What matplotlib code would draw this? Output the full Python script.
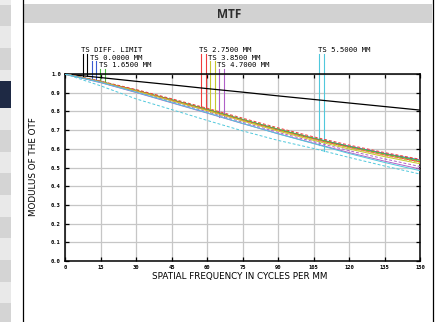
import numpy as np
import matplotlib
matplotlib.use("Agg")
import matplotlib.pyplot as plt
from matplotlib.patches import Rectangle
from matplotlib.lines import Line2D

W, H = 438, 322

# spatial frequency (cycles/mm) and modulus values
freqs = [0, 15, 30, 45, 60, 75, 90, 105, 120, 135, 150]
diff_limit = [1.0, 0.981, 0.961, 0.942, 0.922, 0.903, 0.883, 0.864, 0.845, 0.826, 0.807]

t_0000 = [1.0, 0.959, 0.912, 0.862, 0.810, 0.756, 0.704, 0.657, 0.614, 0.575, 0.540]
s_0000 = [1.0, 0.959, 0.912, 0.862, 0.810, 0.756, 0.704, 0.656, 0.613, 0.574, 0.538]
t_1650 = [1.0, 0.960, 0.913, 0.863, 0.811, 0.757, 0.705, 0.656, 0.612, 0.573, 0.537]
s_1650 = [1.0, 0.960, 0.914, 0.864, 0.812, 0.758, 0.706, 0.657, 0.612, 0.572, 0.535]
t_2750 = [1.0, 0.959, 0.911, 0.860, 0.807, 0.753, 0.700, 0.652, 0.607, 0.567, 0.530]
s_2750 = [1.0, 0.962, 0.917, 0.868, 0.817, 0.764, 0.712, 0.664, 0.620, 0.580, 0.544]
t_3850 = [1.0, 0.958, 0.909, 0.857, 0.804, 0.749, 0.695, 0.645, 0.599, 0.558, 0.520]
s_3850 = [1.0, 0.958, 0.910, 0.859, 0.806, 0.752, 0.699, 0.650, 0.605, 0.564, 0.526]
t_4700 = [1.0, 0.954, 0.901, 0.846, 0.791, 0.735, 0.681, 0.630, 0.580, 0.534, 0.492]
s_4700 = [1.0, 0.956, 0.905, 0.852, 0.798, 0.742, 0.688, 0.638, 0.590, 0.546, 0.505]
t_5500 = [1.0, 0.955, 0.903, 0.848, 0.793, 0.736, 0.680, 0.628, 0.575, 0.527, 0.483]
s_5500 = [1.0, 0.937, 0.867, 0.810, 0.752, 0.696, 0.645, 0.602, 0.554, 0.508, 0.465]

field_labels = ["TS 0.0000 MM", "TS 1.6500 MM", "TS 2.7500 MM",
                "TS 3.8500 MM", "TS 4.7000 MM", "TS 5.5000 MM"]
field_t = [t_0000, t_1650, t_2750, t_3850, t_4700, t_5500]
field_s = [s_0000, s_1650, s_2750, s_3850, s_4700, s_5500]
field_colors = ["#3a5ad0", "#4cc040", "#f03c3c", "#c8c830", "#b060c8", "#50c8dc"]

# legend tags: data x of the two leader lines, label x, label baseline y
diff_tag = (7.5, 9.4, 6.8, 1.115)
field_tags = [(11.3, 13.2, 10.6, 1.075), (14.9, 16.9, 14.4, 1.035),
              (57.5, 59.5, 56.6, 1.115), (61.4, 63.4, 60.4, 1.075),
              (65.1, 67.1, 64.2, 1.035), (107.4, 109.4, 106.9, 1.115)]

fig = plt.figure(figsize=(W / 100, H / 100), dpi=100)
fig.patch.set_facecolor("white")


def px_rect(x0, y0, x1, y1, color):
    fig.add_artist(Rectangle((x0 / W, 1 - y1 / H), (x1 - x0) / W, (y1 - y0) / H,
                             transform=fig.transFigure, color=color, lw=0, zorder=0))


# page side bar
stripes = [(0, 5, "#ececec"), (5, 26, "#d4d4d4"), (26, 48, "#e9e9e9"),
           (48, 70, "#d4d4d4"), (70, 81, "#e9e9e9"), (81, 108, "#1e2944"),
           (108, 130, "#e9e9e9"), (130, 152, "#d4d4d4"), (152, 173, "#e9e9e9"),
           (173, 195, "#d4d4d4"), (195, 217, "#e9e9e9"), (217, 238, "#d4d4d4"),
           (238, 260, "#e9e9e9"), (260, 282, "#d4d4d4"), (282, 303, "#e9e9e9"),
           (303, 322, "#d4d4d4")]
for y0, y1, c in stripes:
    px_rect(0, y0, 11, y1, c)

# panel frame and header
px_rect(23, 4, 432, 23, "#d2d2d2")
fig.add_artist(Line2D([22.5 / W, 22.5 / W], [0, 1], transform=fig.transFigure, color="black", lw=0.9))
fig.add_artist(Line2D([432.5 / W, 432.5 / W], [0, 1], transform=fig.transFigure, color="black", lw=0.9))
fig.text(229 / W, 1 - 14 / H, "MTF", ha="center", va="center", fontsize=8.5,
         fontweight="bold", color="#2e2e2e", family="Open Sans")

ax = fig.add_axes([65 / W, 1 - 261 / H, 355 / W, 187 / H])
ax.set_xlim(0, 150)
ax.set_ylim(0, 1)
ax.set_xticks(range(0, 151, 15))
ax.set_yticks(np.arange(0, 1.01, 0.1))
ax.set_yticklabels(["%.1f" % v for v in np.arange(0, 1.01, 0.1)])
ax.tick_params(direction="in", length=3, width=0.9, top=True, right=True,
               labelsize=4, pad=3)
for lab in ax.get_xticklabels() + ax.get_yticklabels():
    lab.set_family("DejaVu Sans Mono")
    lab.set_fontweight("bold")
ax.grid(color="#c6c6c6", lw=0.9)
ax.set_axisbelow(True)
for sp in ax.spines.values():
    sp.set_linewidth(1.1)

ax.plot(freqs, diff_limit, color="black", lw=0.9, zorder=3)
for t, s, c in zip(field_t, field_s, field_colors):
    ax.plot(freqs, t, color=c, lw=0.7, zorder=3)
    ax.plot(freqs, s, color=c, lw=0.7, ls=(0, (3, 2)), zorder=3)

txt = dict(fontsize=5.2, family="DejaVu Sans Mono", va="baseline", ha="left", clip_on=False)
x1, x2, lx, ly = diff_tag
for xv in (x1, x2):
    ax.plot([xv, xv], [ly - 0.006, np.interp(xv, freqs, diff_limit)], color="black",
            lw=0.8, clip_on=False)
ax.text(lx, ly, "TS DIFF. LIMIT", **txt)
for (x1, x2, lx, ly), lab, t, s, c in zip(field_tags, field_labels, field_t, field_s, field_colors):
    ax.plot([x1, x1], [ly - 0.006, np.interp(x1, freqs, t)], color=c, lw=0.8, clip_on=False)
    ax.plot([x2, x2], [ly - 0.006, np.interp(x2, freqs, s)], color=c, lw=0.8, clip_on=False)
    ax.text(lx, ly, lab, **txt)

fig.text(33 / W, 1 - 167 / H, "MODULUS OF THE OTF", rotation=90, ha="center", va="center",
         fontsize=6.3)
fig.text(240 / W, 1 - 277 / H, "SPATIAL FREQUENCY IN CYCLES PER MM", ha="center", va="center",
         fontsize=6.3)

fig.savefig("out.png", dpi=100)
